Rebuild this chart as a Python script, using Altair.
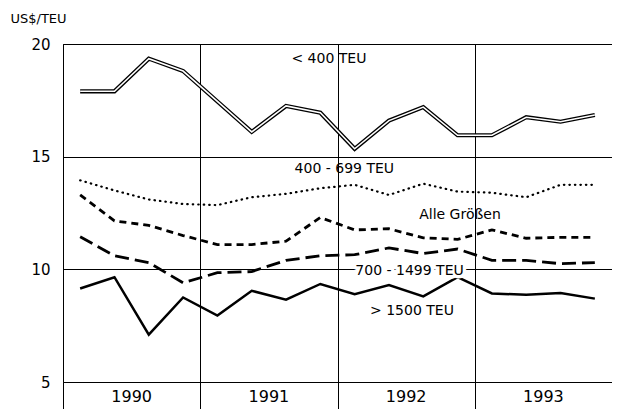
import altair as alt
import pandas as pd

years = [1990, 1991, 1992, 1993]
quarters = [i + 0.5 for i in range(16)]

s_lt400 = [17.9, 17.9, 19.35, 18.8, 17.45, 16.1, 17.25, 16.95, 15.35, 16.6, 17.2, 15.95, 15.95, 16.75, 16.55, 16.85]
s_400_699 = [13.95, 13.5, 13.1, 12.9, 12.85, 13.2, 13.35, 13.6, 13.75, 13.3, 13.8, 13.45, 13.4, 13.2, 13.75, 13.75]
s_alle = [13.3, 12.15, 11.95, 11.5, 11.1, 11.1, 11.25, 12.3, 11.75, 11.8, 11.4, 11.33, 11.75, 11.38, 11.42, 11.42]
s_700_1499 = [11.45, 10.6, 10.3, 9.4, 9.85, 9.9, 10.4, 10.6, 10.65, 10.95, 10.7, 10.9, 10.4, 10.4, 10.25, 10.3]
s_gt1500 = [9.15, 9.65, 7.1, 8.75, 7.95, 9.05, 8.65, 9.35, 8.9, 9.3, 8.8, 9.65, 8.93, 8.87, 8.95, 8.7]

label_text = ["< 400 TEU", "400 - 699 TEU", "Alle Größen", "700 - 1499 TEU", "> 1500 TEU"]
label_q = [7.75, 8.2, 11.57, 10.1, 10.17]
label_v = [19.33, 14.45, 12.4, 9.92, 8.15]
label_halo = [0, 0, 0, 1, 0]

W, H = 549, 338
FONT = "DejaVu Sans"

xscale = alt.Scale(domain=[0, 16], nice=False, zero=False)
yscale = alt.Scale(domain=[5, 20], nice=False, zero=False)


def series_df(vals):
    return pd.DataFrame({"q": quarters, "v": vals})


x_enc = alt.X("q:Q", scale=xscale,
              axis=alt.Axis(values=[0, 4, 8, 12, 16], grid=True, gridColor="black",
                            gridOpacity=1, gridWidth=1, ticks=True, tickSize=29,
                            tickColor="black", tickWidth=1, labels=False, domain=False,
                            title=None))
y_enc = alt.Y("v:Q", scale=yscale,
              axis=alt.Axis(values=[5, 10, 15, 20], grid=True, gridColor="black",
                            gridOpacity=1, gridWidth=1, ticks=False, domain=False,
                            labelFont=FONT, labelFontSize=15, labelColor="black",
                            labelPadding=13, title="US$/TEU", titleAngle=0,
                            titleAlign="left", titleBaseline="middle",
                            titleX=-53, titleY=-26, titleFont=FONT,
                            titleFontSize=13, titleFontWeight="normal", titleColor="black"))

base_axes = alt.Chart(series_df(s_gt1500)).mark_line(strokeWidth=2.5, color="black").encode(x=x_enc, y=y_enc)

lt400_outer = alt.Chart(series_df(s_lt400)).mark_line(strokeWidth=4.2, color="black").encode(x="q:Q", y="v:Q")
lt400_inner = alt.Chart(series_df(s_lt400)).mark_line(strokeWidth=1.6, color="white").encode(x="q:Q", y="v:Q")
l400 = alt.Chart(series_df(s_400_699)).mark_line(strokeWidth=2.2, color="black", strokeDash=[0.5, 5],
                                                 strokeCap="round").encode(x="q:Q", y="v:Q")
lalle = alt.Chart(series_df(s_alle)).mark_line(strokeWidth=2.8, color="black", strokeDash=[7, 5]).encode(x="q:Q", y="v:Q")
l700 = alt.Chart(series_df(s_700_1499)).mark_line(strokeWidth=2.8, color="black", strokeDash=[14, 6]).encode(x="q:Q", y="v:Q")

labels_df = pd.DataFrame({"t": label_text, "q": label_q, "v": label_v, "halo": label_halo})
halo = alt.Chart(labels_df).transform_filter("datum.halo == 1").mark_text(
    font=FONT, fontSize=14, fill="white", stroke="white", strokeWidth=7,
    strokeJoin="round", align="center", baseline="middle").encode(x="q:Q", y="v:Q", text="t:N")
labels = alt.Chart(labels_df).mark_text(font=FONT, fontSize=14, color="black",
                                        align="center", baseline="middle").encode(
    x="q:Q", y="v:Q", text="t:N")

years_df = pd.DataFrame({"year": [str(y) for y in years], "q": [i * 4 + 2 for i in range(len(years))]})
year_text = alt.Chart(years_df).mark_text(font=FONT, fontSize=16, color="black",
                                          align="center", baseline="middle").encode(
    x="q:Q", y=alt.value(H + 15), text="year:N")

chart = alt.layer(base_axes, lt400_outer, lt400_inner, l400, lalle, halo, l700, labels, year_text).properties(
    width=W, height=H,
    autosize=alt.AutoSizeParams(type="none"),
    padding={"left": 55, "top": 36, "right": 0, "bottom": 27},
    background="white",
).configure_view(stroke="black", strokeWidth=1)

chart.save("out.html", embed_options={"renderer": "svg", "actions": False})
